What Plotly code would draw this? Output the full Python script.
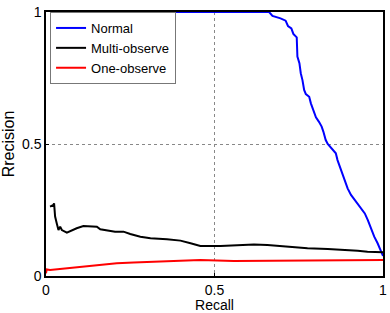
import plotly.graph_objects as go

normal_recall = [0.055, 0.30, 0.50, 0.62, 0.662, 0.672, 0.696, 0.711, 0.718, 0.728, 0.734, 0.744, 0.746, 0.752,
                 0.756, 0.761, 0.766, 0.771, 0.781, 0.786, 0.796, 0.801, 0.81, 0.818, 0.823, 0.830,
                 0.836, 0.850, 0.860, 0.865, 0.875, 0.885, 0.895, 0.905, 0.920, 0.935, 0.946,
                 0.955, 0.964, 0.974, 0.984, 0.994, 1.0]
normal_precision = [1.0, 1.0, 1.0, 1.0, 1.0, 0.985, 0.976, 0.967, 0.947, 0.938, 0.917, 0.904, 0.831, 0.806,
                    0.768, 0.742, 0.705, 0.689, 0.679, 0.654, 0.616, 0.601, 0.584, 0.566, 0.547, 0.515,
                    0.5, 0.477, 0.465, 0.439, 0.402, 0.364, 0.332, 0.307, 0.281, 0.256, 0.237,
                    0.212, 0.181, 0.149, 0.124, 0.098, 0.076]

multi_recall = [0.012, 0.022, 0.024, 0.027, 0.032, 0.037, 0.042, 0.047, 0.062, 0.076, 0.091, 0.111,
                0.131, 0.151, 0.161, 0.181, 0.205, 0.230, 0.25, 0.280, 0.310, 0.359, 0.399, 0.429,
                0.458, 0.518, 0.557, 0.617, 0.657, 0.716, 0.776, 0.836, 0.875, 0.925, 0.954, 1.0]
multi_precision = [0.263, 0.269, 0.275, 0.225, 0.199, 0.174, 0.187, 0.174, 0.164, 0.172, 0.181, 0.189,
                   0.189, 0.187, 0.177, 0.172, 0.168, 0.168, 0.159, 0.149, 0.143, 0.139, 0.134, 0.124,
                   0.114, 0.114, 0.115, 0.119, 0.117, 0.111, 0.105, 0.102, 0.100, 0.096, 0.092, 0.090]

one_recall = [0.0, 0.002, 0.012, 0.062, 0.111, 0.161, 0.210, 0.26, 0.31, 0.359, 0.409, 0.458,
              0.557, 0.657, 0.756, 0.855, 0.954, 1.0]
one_precision = [0.010, 0.025, 0.023, 0.029, 0.035, 0.042, 0.048, 0.051, 0.054, 0.057, 0.058, 0.061,
                 0.057, 0.058, 0.058, 0.058, 0.061, 0.061]

tick_vals = [0, 0.5, 1]
tick_text = ["0", "0.5", "1"]

fig = go.Figure()
fig.add_trace(go.Scatter(x=normal_recall, y=normal_precision, mode="lines", name="Normal",
                         line=dict(color="#0000FF", width=2)))
fig.add_trace(go.Scatter(x=multi_recall, y=multi_precision, mode="lines", name="Multi-observe",
                         line=dict(color="#000000", width=2)))
fig.add_trace(go.Scatter(x=one_recall, y=one_precision, mode="lines", name="One-observe",
                         line=dict(color="#FF0000", width=2)))

axis_common = dict(range=[0, 1], tickvals=tick_vals, ticktext=tick_text, showgrid=True,
                   gridcolor="#888888", griddash="dot", gridwidth=1, zeroline=False,
                   showline=True, linecolor="black", linewidth=1.5, mirror=True,
                   ticks="inside", ticklen=3, tickcolor="black", automargin=False,
                   tickfont=dict(size=14, color="black", family="Liberation Sans"))

fig.update_xaxes(**axis_common, ticklabelstandoff=0, title=dict(text="Recall", standoff=0,
                 font=dict(size=14, color="black", family="Liberation Sans")))
fig.update_yaxes(**axis_common, title=dict(text="Rrecision", standoff=5,
                 font=dict(size=16, color="black", family="Liberation Sans")))

fig.update_layout(
    width=390, height=313,
    margin=dict(l=46, r=7, t=12, b=37),
    paper_bgcolor="white", plot_bgcolor="white",
    font=dict(family="Liberation Sans", size=14, color="black"),
    legend=dict(x=0.012, y=1.0, xanchor="left", yanchor="top",
                bgcolor="white", bordercolor="#777777", borderwidth=1,
                font=dict(size=13, family="Liberation Sans", color="black"),
                tracegroupgap=0, itemwidth=30),
)

fig.write_html("out.html", config={"displayModeBar": False},
               post_script="document.body.style.margin='0';")
